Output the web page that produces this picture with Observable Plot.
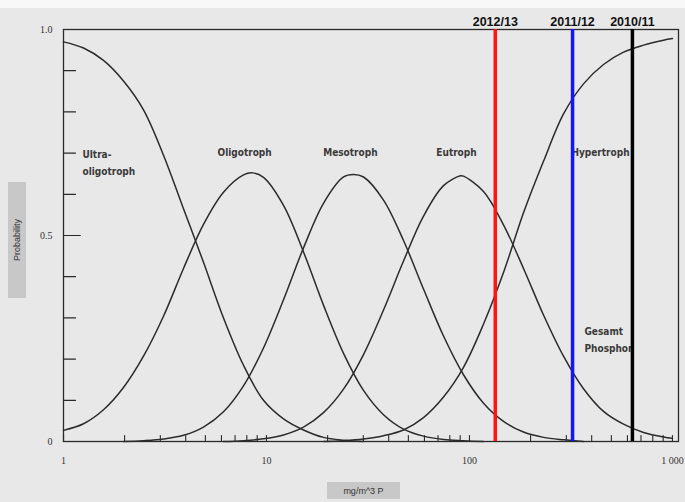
<!DOCTYPE html>
<html><head><meta charset="utf-8">
<script src="https://cdn.jsdelivr.net/npm/d3@7"></script>
<script src="https://cdn.jsdelivr.net/npm/@observablehq/plot@0.6"></script>
<style>
html,body{margin:0;padding:0;}
body{width:685px;height:502px;overflow:hidden;position:relative;background:linear-gradient(#f8f8f8 0,#f8f8f8 8px,#e8e8e8 8px);font-family:"Liberation Sans",Arial,sans-serif;}
#chart{position:absolute;left:0;top:0;}
.axtitle{position:absolute;background:#c8c8c8;color:#333;font-size:9px;display:flex;align-items:center;justify-content:center;}
#ytitle{left:8px;top:182px;width:18px;height:116px;}
#ytitle span{display:block;transform:rotate(-90deg);white-space:nowrap;}
#xtitle{left:327px;top:482px;width:73px;height:17px;}
</style></head><body>
<div id="chart"></div>
<div id="ytitle" class="axtitle"><span>Probability</span></div>
<div id="xtitle" class="axtitle">mg/m^3 P</div>
<script>
// Curve points (x in mg/m^3 P, y probability)
const ultraX = [1, 1.255, 1.574, 1.975, 2.478, 3.109, 3.901, 4.894, 6.141, 7.705, 9.667, 12.13, 15.22, 19.09, 23.96, 30.06];
const ultraY = [0.97, 0.955, 0.925, 0.875, 0.805, 0.695, 0.565, 0.435, 0.30, 0.185, 0.10, 0.055, 0.028, 0.01, 0.003, 0];

const oligoX = [1, 1.255, 1.574, 1.975, 2.478, 3.109, 3.901, 4.894, 6.141, 7.705, 8.53, 9.667, 12.13, 15.22, 19.09, 23.96, 30.06, 37.71, 47.32, 59.37, 74.49, 93.46, 117.3];
const oligoY = [0.027, 0.043, 0.077, 0.131, 0.207, 0.304, 0.42, 0.527, 0.605, 0.647, 0.652, 0.641, 0.573, 0.46, 0.331, 0.214, 0.124, 0.065, 0.030, 0.013, 0.005, 0.002, 0];

const mesoX = [1.975, 2.478, 3.109, 3.901, 4.894, 6.141, 7.705, 9.667, 12.13, 15.22, 19.09, 23.96, 26.83, 30.06, 37.71, 47.32, 59.37, 74.49, 93.46, 117.3, 147.1, 184.6, 231.6, 290.6, 364.6];
const mesoY = [0, 0.002, 0.006, 0.015, 0.035, 0.072, 0.135, 0.227, 0.344, 0.47, 0.578, 0.642, 0.648, 0.642, 0.586, 0.488, 0.37, 0.256, 0.162, 0.093, 0.049, 0.023, 0.010, 0.004, 0];

const eutroX = [6.141, 7.705, 9.667, 12.13, 15.22, 19.09, 23.96, 30.06, 37.71, 47.32, 59.37, 74.49, 90.3, 93.46, 117.3, 147.1, 184.6, 231.6, 290.6, 364.6, 457.5, 574.0, 720.2, 903.6, 1000];
const eutroY = [0, 0.002, 0.0065, 0.016, 0.035, 0.07, 0.127, 0.211, 0.319, 0.438, 0.547, 0.621, 0.645, 0.644, 0.607, 0.526, 0.42, 0.307, 0.207, 0.128, 0.073, 0.042, 0.022, 0.011, 0.008];

const hyperX = [19.09, 23.96, 30.06, 37.71, 47.32, 59.37, 74.49, 93.46, 117.3, 147.1, 184.6, 231.6, 290.6, 364.6, 457.5, 574.0, 720.2, 903.6, 1000];
const hyperY = [0, 0.002, 0.006, 0.014, 0.028, 0.058, 0.108, 0.18, 0.285, 0.41, 0.555, 0.68, 0.795, 0.868, 0.915, 0.945, 0.962, 0.974, 0.978];

// Season markers
const seasons = ["2012/13", "2011/12", "2010/11"];
const seasonP = [134, 322, 635];
const seasonColors = ["#ff1414", "#1414ff", "#000000"];

// Class labels
const classNames = ["Oligotroph", "Mesotroph", "Eutroph", "Hypertroph"];
const classLabelX = [7.8, 25.9, 86.3, 442];
const classLabelY = [0.70, 0.70, 0.70, 0.70];
const leftLabels = ["Ultra-\noligotroph", "Gesamt\nPhosphor"];
const leftLabelX = [1.24, 368.6];
const leftLabelY = [0.68, 0.251];

// Axis ticks and labels
const xTickValues = [1, 10, 100, 1000];
const xTickLabels = ["1", "10", "100", "1 000"];
const xMinorTicks = [1,2,3,4,5,6,7,8,9,10,20,30,40,50,60,70,80,90,100,200,300,400,500,600,700,800,900,1000];
const yTickValues = [0, 0.5, 1];
const yTickLabels = ["0", "0.5", "1.0"];
const yMinorTicks = [0,0.1,0.2,0.3,0.4,0.5,0.6,0.7,0.8,0.9,1];

const series = [
  ["Ultra", ultraX, ultraY], ["Oligo", oligoX, oligoY], ["Meso", mesoX, mesoY],
  ["Eutro", eutroX, eutroY], ["Hyper", hyperX, hyperY]
];
const rows = series.flatMap(([name, xs, ys]) => xs.map((x, i) => ({curve: name, x, y: ys[i]})));
const seasonRows = seasons.map((s, i) => ({label: s, p: seasonP[i], color: seasonColors[i]}));
const classRows = classNames.map((t, i) => ({t, x: classLabelX[i], y: classLabelY[i]}));
const leftRows = leftLabels.map((t, i) => ({t, x: leftLabelX[i], y: leftLabelY[i]}));

const labelFont = {fontFamily: "'Liberation Sans Narrow','DejaVu Sans Condensed','Liberation Sans',sans-serif", fontSize: 10, fill: "#3a3a3a", fontWeight: 600};
const serif = "'Liberation Serif','DejaVu Serif',serif";
const tickShape = {draw(context, l) { context.moveTo(0, 0); context.lineTo(0, -l); }};

const chart = Plot.plot({
  width: 685,
  height: 502,
  marginLeft: 63,
  marginRight: 7,
  marginTop: 29,
  marginBottom: 61,
  style: {background: "transparent", overflow: "visible"},
  x: {type: "log", domain: [1, 1071], axis: null},
  y: {domain: [0, 1], axis: null},
  color: {type: "identity"},
  marks: [
    Plot.frame({stroke: "#2a2a2a", strokeWidth: 1.3}),
    Plot.vector(yMinorTicks, {y: d => d, frameAnchor: "left", rotate: 90, length: d => d === 0.5 ? 7 : 5, anchor: "start", shape: tickShape, stroke: "#2a2a2a", strokeWidth: 1.2}),
    Plot.vector(xMinorTicks, {x: d => d, frameAnchor: "bottom", rotate: 0, length: 6, anchor: "start", shape: tickShape, stroke: "#2a2a2a", strokeWidth: 1.1}),
    Plot.axisY(yTickValues, {tickSize: 0, tickPadding: 11, tickFormat: d => yTickLabels[yTickValues.indexOf(d)], fontFamily: serif, fontSize: 10, fill: "#333", label: null}),
    Plot.axisX(xTickValues, {tickSize: 0, tickPadding: 15, tickFormat: d => xTickLabels[xTickValues.indexOf(d)], fontFamily: serif, fontSize: 10, fill: "#333", label: null}),
    Plot.line(rows, {x: "x", y: "y", z: "curve", curve: "catmull-rom", stroke: "#2b2b2b", strokeWidth: 1.5}),
    Plot.text(classRows, {x: "x", y: "y", text: "t", textAnchor: "middle", ...labelFont}),
    Plot.text(leftRows, {x: "x", y: "y", text: "t", textAnchor: "start", lineHeight: 1.7, ...labelFont}),
    Plot.ruleX(seasonRows, {x: "p", stroke: "color", strokeWidth: 3.5}),
    Plot.text(seasonRows, {x: "p", text: "label", frameAnchor: "top", dy: -12, fontFamily: "'Liberation Sans',Arial,sans-serif", fontWeight: "bold", fontSize: 12.5, fill: "#111"})
  ]
});
document.getElementById("chart").appendChild(chart);
</script>
</body></html>
